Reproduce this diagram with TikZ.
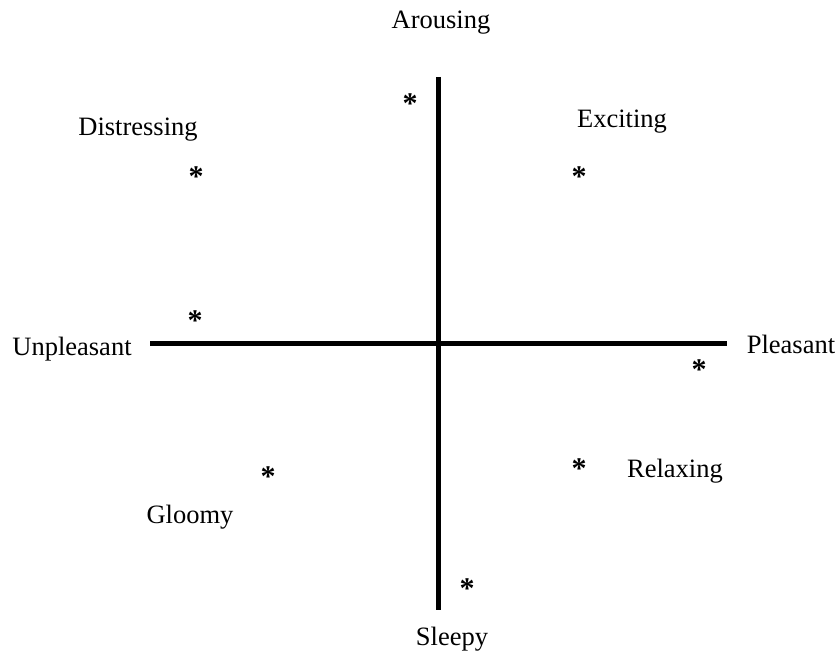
\documentclass[tikz,border=0pt]{standalone}
\usepackage{fontspec}
\setmainfont{Liberation Serif}
\begin{document}
\begin{tikzpicture}[x=1pt,y=1pt,
  axis/.style={line width=5pt},
  lbl/.style={anchor=base,inner sep=0pt,font=\fontsize{26.5}{30}\selectfont},
  star/.style={inner sep=0pt,font=\fontsize{30}{32}\selectfont\bfseries}]
\useasboundingbox (0,0) rectangle (838,654);
\coordinate (top) at (438,577);
\coordinate (bot) at (438,44);
\coordinate (left) at (150,310);
\coordinate (right) at (727,310);
\draw[axis] (top) -- (bot);
\draw[axis] (left) -- (right);
\node[lbl] (arousing) at (441,625) {Arousing};
\node[lbl] (sleepy) at (452,9) {Sleepy};
\node[lbl] (unpleasant) at (72,298) {Unpleasant};
\node[lbl] (pleasant) at (791,300) {Pleasant};
\node[lbl] (distressing) at (138,518) {Distressing};
\node[lbl] (exciting) at (622,526) {Exciting};
\node[lbl] (relaxing) at (675,177) {Relaxing};
\node[lbl] (gloomy) at (190,131) {Gloomy};
\node[star] (s1) at (410,550) {*};
\node[star] (s2) at (196,477) {*};
\node[star] (s3) at (579,477) {*};
\node[star] (s4) at (195,333) {*};
\node[star] (s5) at (699,284) {*};
\node[star] (s6) at (268,177) {*};
\node[star] (s7) at (579,185) {*};
\node[star] (s8) at (467,65) {*};
\end{tikzpicture}
\end{document}
